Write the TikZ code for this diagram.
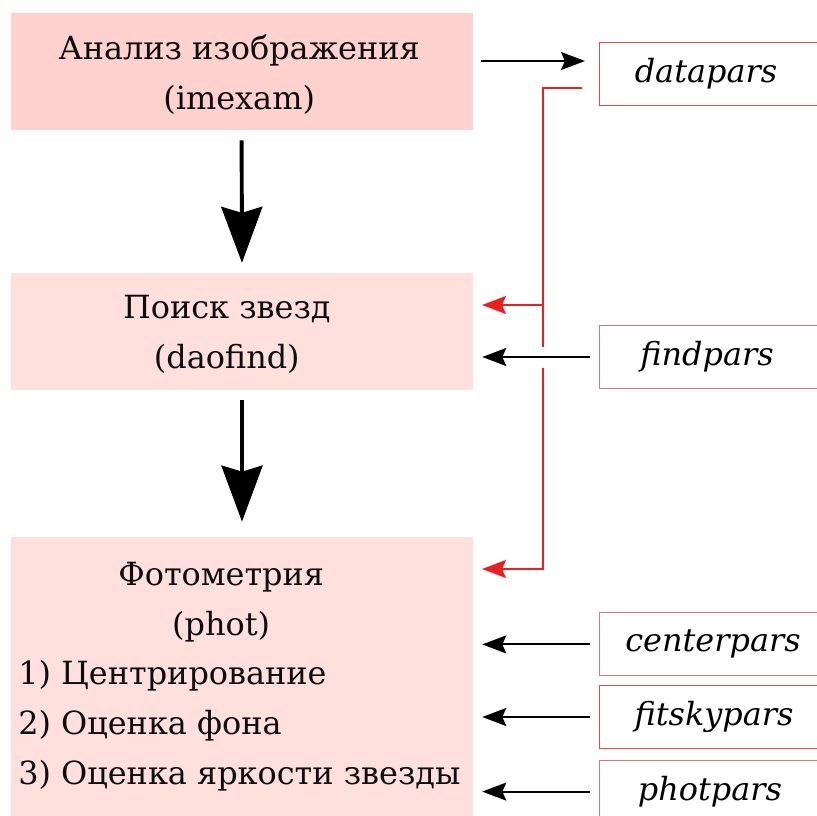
\documentclass[tikz,border=0pt]{standalone}
\usepackage{fontspec}
\setmainfont{DejaVu Serif}
\usetikzlibrary{arrows.meta}

\definecolor{stagepinkA}{RGB}{255,209,207}
\definecolor{stagepinkB}{RGB}{255,224,221}
\definecolor{parsred}{RGB}{240,70,70}
\definecolor{parsrose}{RGB}{212,120,120}
\definecolor{linkred}{RGB}{232,32,32}

\begin{document}
\begin{tikzpicture}[
	txt/.style={font=\fontsize{22.7}{35.5}\selectfont, text=black!95},
	stage/.style={inner sep=0pt, minimum width=11.55cm, minimum height=2.925cm},
	pars/.style={font=\fontsize{22.7}{35.5}\selectfont\itshape, draw=parsred, line width=0.6pt,
		inner sep=0pt, minimum width=5.55cm, minimum height=1.575cm},
	bigarr/.style={line width=2.8pt, -{Stealth[length=1.4cm,width=1.025cm,inset=0.15cm]}},
	smallarr/.style={line width=1.4pt, -{Stealth[length=0.6cm,width=0.45cm,inset=0.1cm]}},
	redarr/.style={draw=linkred, line width=1.1pt, -{Stealth[length=0.6cm,width=0.45cm,inset=0.1cm]}}
	]
		\useasboundingbox (0,0) rectangle (20.425,-20.4);
		\clip (0,0) rectangle (20.425,-20.4);

		% stages
		\node[stage, fill=stagepinkA] (imexam) at (6.04,-1.79) {};
		\node[stage, fill=stagepinkB] (daofind) at (6.05,-8.29) {};
		\node[stage, fill=stagepinkB, minimum height=6.975cm] (phot) at (6.05,-16.91) {};

		\node[txt, anchor=base] (imexamA) at (5.98,-1.475) {Анализ изображения};
		\node[txt, anchor=base] (imexamB) at (5.98,-2.725) {(imexam)};

		\node[txt, anchor=base] (daofindA) at (5.67,-7.97) {Поиск звезд};
		\node[txt, anchor=base] (daofindB) at (5.67,-9.22) {(daofind)};

		\node[txt, anchor=base] (photA) at (5.53,-14.625) {Фотометрия};
		\node[txt, anchor=base] (photB) at (5.53,-15.875) {(phot)};
		\node[txt, anchor=base west, inner sep=0pt] (photC) at (0.45,-17.1) {1) Центрирование};
		\node[txt, anchor=base west, inner sep=0pt] (photD) at (0.45,-18.35) {2) Оценка фона};
		\node[txt, anchor=base west, inner sep=0pt] (photE) at (0.45,-19.6) {3) Оценка яркости звезды};

		\draw[bigarr, shorten <=0.25cm, shorten >=0.25cm] (imexam.south) -- (daofind.north);
		\draw[bigarr, shorten <=0.25cm, shorten >=0.375cm] (daofind.south) -- (phot.north);

		% parameter files
		\node[pars] (datapars) at (17.75,-1.8375) {\hspace*{-0.2cm}datapars};
		\node[pars, draw=parsrose] (findpars) at (17.75,-8.925) {\hspace*{-0.15cm}findpars};
		\node[pars, draw=parsrose] (centerpars) at (17.75,-16.11) {\hspace*{0.15cm}centerpars};
		\node[pars] (fitskypars) at (17.75,-17.925) {\hspace*{0.2cm}fitskypars};
		\node[pars, draw=parsrose] (photpars) at (17.75,-19.79) {photpars};

		% red link from datapars
		\coordinate (redS) at (14.55,-2.2);
		\coordinate (redK) at (13.575,-2.2);
		\coordinate (redD) at (12.05,-7.625);
		\coordinate (redP) at (12.05,-14.225);
		\draw[redarr] (redS) -- (redK) |- (redD);
		\draw[redarr] (redS) -- (redK) |- (redP);
		\fill[white] (13.125,-8.675) rectangle (13.65,-9.2);

		% black arrows
		\coordinate (dataIn) at (14.625,-1.525);
		\draw[smallarr, shorten <=0.21cm] (imexam.east |- dataIn) -- (dataIn);
		\draw[smallarr, shorten <=0.225cm, shorten >=0.225cm] (findpars.west) -- (findpars.west -| daofind.east);
		\draw[smallarr, shorten <=0.225cm, shorten >=0.225cm] (centerpars.west) -- (centerpars.west -| phot.east);
		\draw[smallarr, shorten <=0.225cm, shorten >=0.225cm] (fitskypars.west) -- (fitskypars.west -| phot.east);
		\draw[smallarr, shorten <=0.225cm, shorten >=0.225cm] (photpars.west) -- (photpars.west -| phot.east);
	\end{tikzpicture}
\end{document}
